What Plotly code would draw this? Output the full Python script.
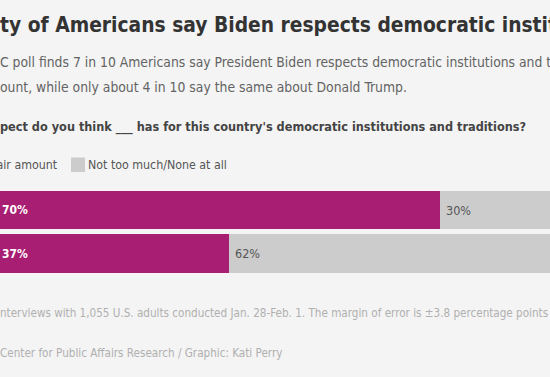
import plotly.graph_objects as go

# ---- data ----
categories = ["Biden", "Trump"]
great_fair = [70, 37]
not_much_none = [30, 62]
legend_labels = ["A great deal/Fair amount", "Not too much/None at all"]

title_text = "ty of Americans say Biden respects democratic institutions"
subtitle_lines = [
    "C poll finds 7 in 10 Americans say President Biden respects democratic institutions and traditions",
    "ount, while only about 4 in 10 say the same about Donald Trump.",
]
question_text = "pect do you think ___ has for this country's democratic institutions and traditions?"
footer_lines = [
    "nterviews with 1,055 U.S. adults conducted Jan. 28-Feb. 1. The margin of error is ±3.8 percentage points for all respondents.",
    "Center for Public Affairs Research / Graphic: Kati Perry",
]

# ---- style ----
W, H = 550, 377
PINK = "#a81e72"
GRAY = "#cccccc"
BG = "#f4f4f4"
FONT = "DejaVu Sans Condensed, Liberation Sans Narrow, Arial Narrow, sans-serif"


def py(y):
    return 1 - y / H


fig = go.Figure()
fig.add_trace(go.Bar(
    y=categories, x=great_fair, orientation="h", marker_color=PINK,
    marker_line_width=0, name=legend_labels[0], hoverinfo="skip",
))
fig.add_trace(go.Bar(
    y=categories, x=not_much_none, base=great_fair, orientation="h",
    marker_color=GRAY, marker_line_width=0, name=legend_labels[1], hoverinfo="skip",
))


def txt(text, x, y, size, color, bold=False, anchor="left", xshift=-2, xref="paper", yref="paper"):
    return dict(text=text, x=x, y=y, xref=xref, yref=yref, xanchor=anchor,
                yanchor="middle", xshift=xshift, showarrow=False,
                font=dict(family=FONT, size=size, color=color,
                          weight="bold" if bold else "normal"))


ann = [
    txt(title_text, 0, py(25), 20.8, "#333333", bold=True),
    txt(subtitle_lines[0], 0, py(62), 13.8, "#636363"),
    txt(subtitle_lines[1], 0, py(87), 13.8, "#636363"),
    txt(question_text, 0, py(127), 12.6, "#444444", bold=True),
    txt(legend_labels[0], 58 / W, py(165), 12.3, "#555555", anchor="right", xshift=2),
    txt(legend_labels[1], 88 / W, py(165), 12.3, "#555555"),
    txt(footer_lines[0], 0, py(313), 11.6, "#b0b0b0"),
    txt(footer_lines[1], 0, py(353), 11.6, "#b0b0b0"),
]
# value labels
for cat, a, b in zip(categories, great_fair, not_much_none):
    ann.append(txt(f"{a}%", 0, cat, 12, "#ffffff", bold=True, xshift=0, yref="y"))
    ann.append(txt(f"{b}%", a, cat, 12.5, "#555555", xshift=4, xref="x", yref="y"))

shapes = [
    dict(type="rect", xref="paper", yref="paper", x0=71 / W, x1=85 / W,
         y0=py(172), y1=py(157.5), fillcolor=GRAY, line_width=0),
]

fig.update_layout(
    width=W, height=H, autosize=False,
    margin=dict(l=0, r=0, t=0, b=0),
    paper_bgcolor=BG, plot_bgcolor=BG,
    barmode="stack", bargap=0.115, showlegend=False,
    xaxis=dict(range=[1.19, 87.26], visible=False, fixedrange=True),
    yaxis=dict(categoryorder="array", categoryarray=categories, range=[1.5, -0.5],
               domain=[py(275.25), py(188.25)], visible=False, fixedrange=True),
    annotations=ann, shapes=shapes,
    font=dict(family=FONT),
)

fig.write_html("out.html", config={"displayModeBar": False},
               post_script="document.body.style.margin='0';")
